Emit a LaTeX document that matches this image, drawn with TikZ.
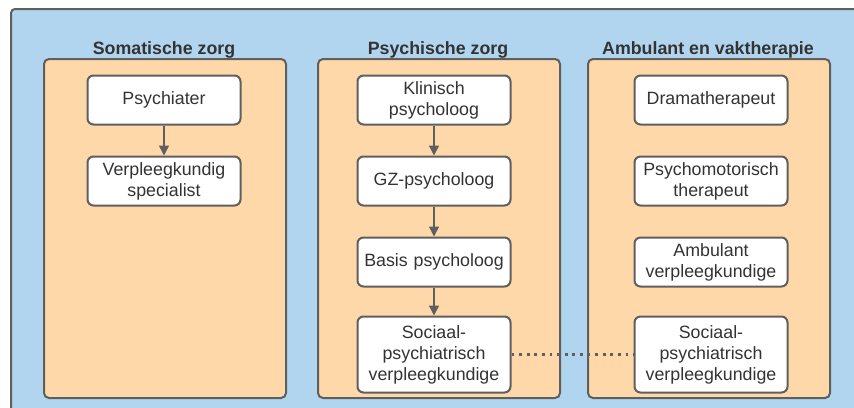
\documentclass[tikz,border=0pt]{standalone}
\usepackage{fontspec}
\setmainfont{Liberation Sans}
\usepackage{tikz}
\usetikzlibrary{positioning,arrows.meta}
\definecolor{bgblue}{HTML}{B2D5EF}
\definecolor{laneorange}{HTML}{FED8A8}
\definecolor{edgegrey}{HTML}{5F5F5F}
\definecolor{textgrey}{HTML}{333333}

\begin{document}
\begin{tikzpicture}[x=0.5pt,y=-0.5pt,
  lane/.style={draw=edgegrey, fill=laneorange, line width=1pt, rounded corners=2.5pt,
    minimum width=121pt, minimum height=169.5pt, anchor=north west, inner sep=0pt},
  lanetitle/.style={font=\fontsize{8.9}{10.5}\selectfont\bfseries, text=textgrey, anchor=base},
  role/.style={draw=edgegrey, fill=white, line width=1pt, rounded corners=3pt,
    minimum width=76.5pt, minimum height=24.5pt, text width=74pt, align=center,
    inner sep=0pt, font=\fontsize{8.9}{10.5}\selectfont, text=textgrey},
  flow/.style={draw=edgegrey, line width=0.75pt, -{Triangle[length=5pt,width=5pt]}},
  link/.style={draw=edgegrey, line width=1.4pt, dash pattern=on 1.4pt off 2.4pt}]
  \useasboundingbox[fill=white] (0,0) rectangle (854,407);
  \clip (0,0) rectangle (854,407);
  \draw[draw=edgegrey, fill=bgblue, line width=1pt, rounded corners=2pt] (11,9) rectangle (880,430);

  % lanes
  \node[lane] (somlane) at (43,58) {};
  \node[lane] (psylane) at (317,58) {};
  \node[lane] (amblane) at (587,58) {};
  \node[lanetitle] (somtitle) at (164,54) {Somatische zorg};
  \node[lanetitle] (psytitle) at (438,54) {Psychische zorg};
  \node[lanetitle] (ambtitle) at (708,54) {Ambulant en vaktherapie};

  % somatische zorg
  \node[role, anchor=north] (psychiater) at (164,74.5) {Psychiater};
  \node[role, below=15pt of psychiater] (vs) {Verpleegkundig\\specialist};

  % psychische zorg
  \node[role, anchor=north] (klinisch) at (434,74.5) {Klinisch\\psycholoog};
  \node[role, below=15pt of klinisch] (gz) {GZ-psycholoog};
  \node[role, below=15pt of gz] (basis) {Basis psycholoog};
  \node[role, below=14pt of basis, minimum height=38pt] (spvpsy) {Sociaal-\\psychiatrisch\\verpleegkundige};

  % ambulant en vaktherapie
  \node[role, anchor=north] (drama) at (711,74.5) {Dramatherapeut};
  \node[role, below=15pt of drama] (pmt) {Psychomotorisch\\therapeut};
  \node[role, below=15pt of pmt] (ambvpk) {Ambulant\\verpleegkundige};
  \node[role, below=14pt of ambvpk, minimum height=38pt] (spvamb) {Sociaal-\\psychiatrisch\\verpleegkundige};

  \draw[flow] (psychiater) -- (vs);
  \draw[flow] (klinisch) -- (gz);
  \draw[flow] (gz) -- (basis);
  \draw[flow] (basis) -- (spvpsy);
  \draw[link] (spvpsy.east) -- (spvamb.west);
\end{tikzpicture}
\end{document}
